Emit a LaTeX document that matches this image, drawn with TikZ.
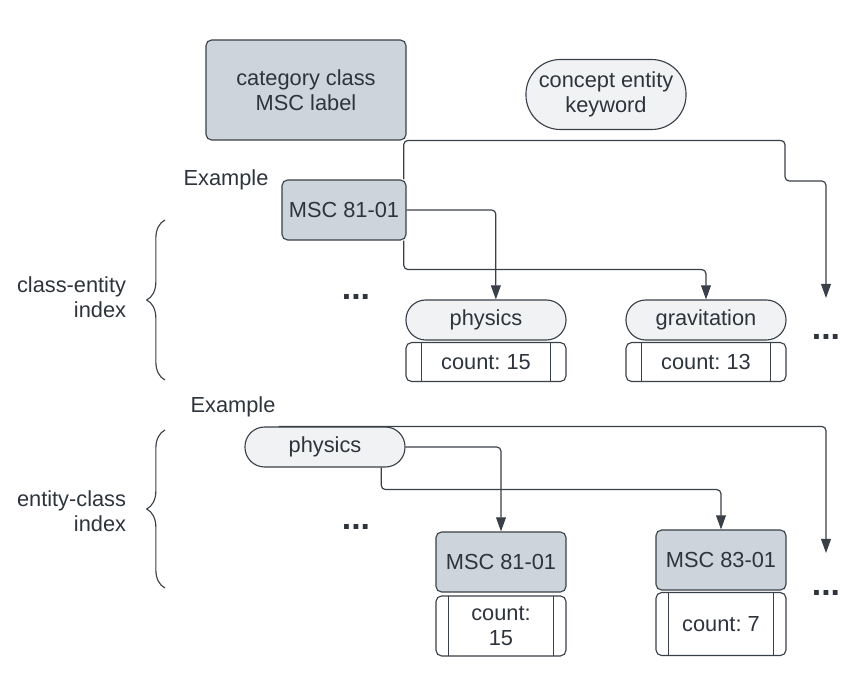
\documentclass[tikz,border=0pt]{standalone}
\usepackage{fontspec}
\setsansfont{Liberation Sans}
\usepackage{tikz}
\usetikzlibrary{positioning}
\usetikzlibrary{arrows.meta}
\usetikzlibrary{decorations.pathreplacing}
\frenchspacing

\definecolor{mscfill}{HTML}{CED4DC}
\definecolor{kwfill}{HTML}{F1F2F4}
\definecolor{linegray}{HTML}{3A4048}
\definecolor{textgray}{HTML}{2E343B}

\begin{document}
\begin{tikzpicture}[x=0.025cm,y=-0.025cm,>={Triangle[length=10pt,width=7pt]},
    font=\sffamily\fontsize{15.5}{18}\selectfont,
    every node/.style={text=textgray},
    mscbox/.style={draw=linegray,fill=mscfill,line width=0.8pt,rounded corners=4pt,align=center,inner sep=2pt},
    kwpill/.style={draw=linegray,fill=kwfill,line width=0.8pt,rounded corners=14pt,minimum width=4cm,minimum height=1cm,align=center,inner sep=2pt},
    countbox/.style={draw=linegray,fill=white,line width=0.8pt,rounded corners=4pt,align=center,inner sep=2pt,
      path picture={\draw[linegray,line width=0.8pt]
        ([xshift=#1]path picture bounding box.north west) -- ([xshift=#1]path picture bounding box.south west)
        ([xshift=-#1]path picture bounding box.north east) -- ([xshift=-#1]path picture bounding box.south east);}},
    countbox/.default=11pt,
    conn/.style={draw=linegray,line width=0.85pt,rounded corners=3pt},
    dots/.style={font=\sffamily\bfseries\fontsize{24}{24}\selectfont},
    idxbrace/.style={draw=linegray,line width=0.8pt,decorate,decoration={brace,amplitude=13pt}}]
  \useasboundingbox (0,0) rectangle (864,695);

  % legend
  \node[mscbox,minimum width=5cm,minimum height=2.5cm] (legcls) at (306,90) {category class\\MSC label};
  \node[kwpill,minimum height=1.75cm,rounded corners=24.5pt] (legkw) at (606,94.5) {concept entity\\keyword};

  % class-entity index
  \node (ex1) at (226,180) {Example};
  \node[mscbox,minimum width=3.1cm,minimum height=1.5cm] (msc1) at (344,210) {MSC 81-01};
  \node[kwpill] (kw1) at (486,320) {physics};
  \node[countbox,minimum width=4cm,minimum height=0.975cm,below=1pt of kw1] (cnt1) {count: 15};
  \node[kwpill] (kw2) at (706,320) {gravitation};
  \node[countbox,minimum width=4cm,minimum height=0.975cm,below=1pt of kw2] (cnt2) {count: 13};
  \node[dots] (dotsA) at (356,297) {...};
  \node[dots] (dotsB) at (826,337) {...};
  \coordinate (moreA) at (826,298);
  \draw[idxbrace] (165,380) -- (165,220);
  \node[align=right,anchor=east] (idxA) at (131,297) {class-entity\\index};

  \draw[conn,->] ([xshift=-2pt]msc1.north east) -- ++(0,-39) -| (785,181) -| (moreA);
  \draw[conn,->] (msc1.east) -| ([xshift=7pt]kw1.north);
  \draw[conn,->] ([xshift=-2pt]msc1.south east) -- ++(0,29) -| (kw2.north);

  % entity-class index
  \node (ex2) at (233,407) {Example};
  \node[kwpill] (kw3) at (325,447) {physics};
  \node[mscbox,minimum width=3.25cm,minimum height=1.5cm] (msc2) at (501,562) {MSC 81-01};
  \node[countbox=9pt,minimum width=3.25cm,minimum height=1.5cm,below=2pt of msc2] (cnt3) {count:\\15};
  \node[mscbox,minimum width=3.25cm,minimum height=1.5cm] (msc3) at (721,560) {MSC 83-01};
  \node[countbox=9pt,minimum width=3.25cm,minimum height=1.575cm,below=1pt of msc3] (cnt4) {count: 7};
  \node[dots] (dotsC) at (356,527) {...};
  \node[dots] (dotsD) at (826,593) {...};
  \coordinate (moreB) at (826,553);
  \draw[idxbrace] (165,588) -- (165,430);
  \node[align=right,anchor=east] (idxB) at (131,511) {entity-class\\index};

  \draw[conn,->] ([xshift=-33pt]kw3.north) -| (moreB);
  \draw[conn,->] (kw3.east) -| (msc2.north);
  \draw[conn,->] ([xshift=40pt]kw3.south) -- ++(0,22) -| (msc3.north);
\end{tikzpicture}
\end{document}
